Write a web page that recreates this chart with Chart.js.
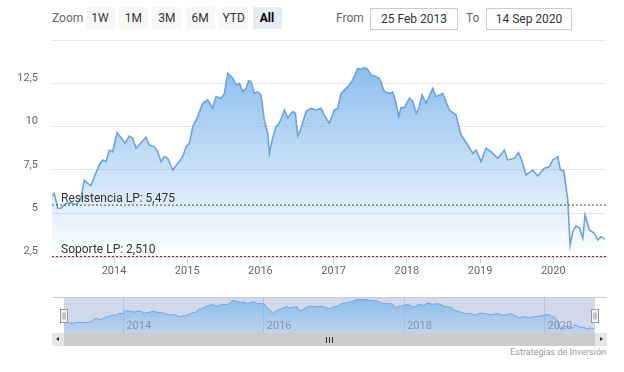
<!DOCTYPE html>
<html>
<head>
<meta charset="utf-8">
<script src="https://cdn.jsdelivr.net/npm/chart.js@4.4.1/dist/chart.umd.min.js"></script>
<style>
  body { margin: 0; width: 624px; height: 372px; overflow: hidden; background: #fff; position: relative; font-family: Roboto, "Liberation Sans", sans-serif; }
  .abs { position: absolute; }
  #zoomLabel { left: 52px; top: 11px; font-size: 12px; color: #666; }
  .btn { top: 7px; width: 29px; height: 22px; line-height: 22px; text-align: center; font-size: 12px; color: #333; background: #f7f7f7; }
  .btn.sel { background: #e6ebf5; font-weight: bold; color: #000; }
  .lbl { top: 11px; font-size: 12px; color: #666; }
  .box { top: 8px; height: 20px; line-height: 20px; border: 1px solid #ccc; text-align: center; font-size: 12px; color: #333; }
  #main { left: 0; top: 0; }
  #navWrap { left: 52px; top: 297px; width: 555px; height: 36px; border-top: 1px solid #ccc; box-sizing: border-box; }
  #nav { left: 0; top: 297px; }
  #scroll { left: 52px; top: 333px; width: 555px; height: 13px; background: #f2f2f2; }
  .sbtn { top: 0; width: 12px; height: 13px; background: #e6e6e6; }
  #thumb { left: 12px; top: 0; width: 531px; height: 13px; background: #cccccc; }
  .rifle { position: absolute; top: 4px; width: 1px; height: 6px; background: #333; }
  .arrL { position: absolute; left: 4px; top: 4px; width: 0; height: 0; border-top: 2.5px solid transparent; border-bottom: 2.5px solid transparent; border-right: 3px solid #333; }
  .arrR { position: absolute; left: 5px; top: 4px; width: 0; height: 0; border-top: 2.5px solid transparent; border-bottom: 2.5px solid transparent; border-left: 3px solid #333; }
  #credits { right: 18px; top: 347px; font-size: 9px; color: #999; }
</style>
</head>
<body>
<div class="abs" id="zoomLabel">Zoom</div>
<div id="buttons"></div>
<div class="abs lbl" style="left:336px">From</div>
<div class="abs box" style="left:370px;width:86px">25 Feb 2013</div>
<div class="abs lbl" style="left:466px">To</div>
<div class="abs box" style="left:486px;width:84px">14 Sep 2020</div>
<canvas id="main" class="abs" width="624" height="290"></canvas>
<div class="abs" id="navWrap"></div>
<canvas id="nav" class="abs" width="624" height="36"></canvas>
<div class="abs" id="scroll">
  <div class="abs sbtn" style="left:0"><div class="arrL"></div></div>
  <div class="abs" id="thumb">
    <div class="rifle" style="left:262px"></div>
    <div class="rifle" style="left:265px"></div>
    <div class="rifle" style="left:268px"></div>
  </div>
  <div class="abs sbtn" style="left:543px"><div class="arrR"></div></div>
</div>
<div class="abs" id="credits">Estrategias de Inversión</div>
<script>
const years = [
    2013.153, 2013.185, 2013.231, 2013.276, 2013.344, 2013.413, 2013.481, 2013.549, 2013.594, 2013.641,
    2013.686, 2013.731, 2013.799, 2013.846, 2013.891, 2013.936, 2013.982,
    2014.041, 2014.096, 2014.150, 2014.209, 2014.255, 2014.301, 2014.369, 2014.437, 2014.482, 2014.551,
    2014.597, 2014.642, 2014.687, 2014.734, 2014.802, 2014.870, 2014.939, 2014.984,
    2015.029, 2015.075, 2015.143, 2015.212, 2015.280, 2015.348, 2015.393, 2015.462, 2015.507, 2015.553,
    2015.622, 2015.667, 2015.712, 2015.758, 2015.803, 2015.840, 2015.872, 2015.917, 2015.963,
    2016.008, 2016.053, 2016.100, 2016.122, 2016.158, 2016.213, 2016.258, 2016.327, 2016.373, 2016.441,
    2016.477, 2016.510, 2016.555, 2016.623, 2016.691, 2016.760, 2016.828, 2016.873, 2016.941,
    2017.010, 2017.056, 2017.101, 2017.193, 2017.261, 2017.329, 2017.374, 2017.419, 2017.466, 2017.511,
    2017.579, 2017.624, 2017.693, 2017.761, 2017.807, 2017.852, 2017.889, 2017.921, 2017.966,
    2018.034, 2018.081, 2018.126, 2018.163, 2018.208, 2018.262, 2018.354, 2018.399, 2018.490, 2018.581,
    2018.672, 2018.740, 2018.832, 2018.900, 2018.945,
    2019.014, 2019.082, 2019.150, 2019.242, 2019.332, 2019.378, 2019.469, 2019.523, 2019.560, 2019.628,
    2019.720, 2019.788, 2019.878, 2019.947, 2019.993,
    2020.061, 2020.097, 2020.143, 2020.198, 2020.230, 2020.266, 2020.311, 2020.357, 2020.403, 2020.434,
    2020.493, 2020.561, 2020.608, 2020.653, 2020.704
];
const prices = [
    6.0, 6.15, 5.29, 5.3, 5.58, 5.6, 5.5, 5.87, 6.92, 6.73, 6.6, 7.11, 7.79, 8.08, 7.98, 8.65, 8.55,
    9.65, 9.38, 9.04, 9.46, 9.33, 8.75, 9.07, 9.38, 8.94, 8.85, 8.56, 7.98, 8.27, 8.17, 7.50, 7.88, 8.27, 8.85,
    9.04, 10.0, 10.58, 11.35, 11.54, 11.06, 11.73, 11.64, 11.92, 13.08, 12.79, 12.4, 12.5, 12.02, 12.2, 12.65, 12.6, 11.92, 12.0,
    11.83, 10.38, 9.62, 8.46, 9.2, 10.0, 10.2, 10.96, 10.5, 10.87, 10.77, 9.46, 9.9, 10.87, 11.06, 10.96, 11.06, 10.67, 10.19,
    10.96, 11.06, 11.92, 12.31, 12.69, 13.37, 13.3, 13.42, 13.3, 12.98, 12.9, 12.79, 12.02, 11.92, 12.0, 11.35, 10.58, 11.1, 11.1,
    11.64, 11.45, 10.77, 11.06, 11.83, 11.35, 12.21, 11.73, 11.92, 10.96, 10.67, 9.52, 8.94, 8.46, 8.65,
    7.98, 8.75, 8.56, 8.17, 8.65, 8.08, 8.17, 8.5, 8.17, 7.21, 7.5, 7.15, 7.6, 7.7, 8.08,
    8.27, 7.5, 7.46, 5.77, 3.17, 3.94, 4.27, 4.15, 3.56, 4.9, 4.04, 3.85, 3.46, 3.65, 3.5
];
const levelNames = ['Resistencia LP', 'Soporte LP'];
const levelValues = [5.475, 2.510];
const levelColors = ['#1f6b2a', '#8e2430'];
const navYears = [2014, 2016, 2018, 2020];
const rangeButtons = ['1W', '1M', '3M', '6M', 'YTD', 'All'];

const xMin = 2013.153;
const xMax = 2020.72;
const blue = '124,181,236';

// range selector buttons
const btnBox = document.getElementById('buttons');
rangeButtons.forEach((b, i) => {
    const el = document.createElement('div');
    el.className = 'abs btn' + (b === 'All' ? ' sel' : '');
    el.style.left = (85.5 + i * 33.4) + 'px';
    el.textContent = b;
    btnBox.appendChild(el);
});

const points = years.map((x, i) => ({ x, y: prices[i] }));

function areaFill(top, bottom) {
    return function(context) {
        const { ctx, chartArea } = context.chart;
        if (!chartArea) return 'rgba(' + blue + ',0.5)';
        const g = ctx.createLinearGradient(0, chartArea.top, 0, chartArea.bottom);
        g.addColorStop(0, 'rgba(' + blue + ',' + top + ')');
        g.addColorStop(1, 'rgba(' + blue + ',' + bottom + ')');
        return g;
    };
}

const levelLabels = {
    id: 'levelLabels',
    afterDatasetsDraw(chart) {
        const { ctx, chartArea, scales } = chart;
        ctx.save();
        ctx.font = '12px Roboto, "Liberation Sans", sans-serif';
        ctx.fillStyle = '#333';
        ctx.textBaseline = 'alphabetic';
        levelNames.forEach((name, i) => {
            const y = scales.y.getPixelForValue(levelValues[i]);
            ctx.fillText(name + ': ' + levelValues[i].toFixed(3).replace('.', ','), chartArea.left + 9, y - 3);
        });
        ctx.restore();
    }
};

const levelSets = levelValues.map((v, i) => ({
    data: [{ x: xMin, y: v }, { x: xMax, y: v }],
    borderColor: levelColors[i],
    borderWidth: 1,
    borderDash: [2, 2],
    pointRadius: 0,
    fill: false,
    order: 0
}));

const mainChart = new Chart(document.getElementById('main'), {
    type: 'line',
    data: {
        datasets: [{
            data: points,
            borderColor: '#6ba3dd',
            borderWidth: 1.6,
            pointRadius: 0,
            tension: 0,
            fill: 'start',
            backgroundColor: areaFill(1, 0),
            order: 1
        }, ...levelSets]
    },
    options: {
        responsive: false,
        animation: false,
        layout: { padding: { top: 40, right: 18, left: 0, bottom: 0 } },
        plugins: {
            legend: { display: false },
            tooltip: { enabled: false }
        },
        scales: {
            x: {
                type: 'linear',
                min: xMin,
                max: xMax,
                afterFit: function(scale) { scale.height = 32.5; },
                grid: { drawOnChartArea: false, color: '#ccd6eb', tickLength: 6 },
                border: { color: '#ccd6eb' },
                ticks: {
                    stepSize: 1,
                    includeBounds: false,
                    maxRotation: 0,
                    padding: 1,
                    color: '#666',
                    font: { size: 11, family: 'Roboto, "Liberation Sans", sans-serif' },
                    callback: function(value) { return String(value); }
                }
            },
            y: {
                min: 2.45,
                max: 15,
                afterFit: function(scale) { scale.width = 52; },
                grid: { color: '#e6e6e6', drawTicks: false },
                border: { display: false },
                ticks: {
                    stepSize: 2.5,
                    includeBounds: false,
                    labelOffset: -5,
                    padding: 14,
                    color: '#666',
                    font: { size: 11, family: 'Roboto, "Liberation Sans", sans-serif' },
                    callback: function(value) {
                        return value === 15 ? '' : String(value).replace('.', ',');
                    }
                }
            }
        }
    },
    plugins: [levelLabels]
});

const navDecor = {
    id: 'navDecor',
    beforeDatasetsDraw(chart) {
        const { ctx, chartArea } = chart;
        ctx.save();
        ctx.fillStyle = 'rgba(102,133,194,0.3)';
        ctx.fillRect(chartArea.left, chartArea.top + 1, chartArea.right - chartArea.left, chartArea.bottom - chartArea.top - 1);
        ctx.restore();
    },
    afterDatasetsDraw(chart) {
        const { ctx, chartArea, scales } = chart;
        ctx.save();
        ctx.font = '11px Roboto, "Liberation Sans", sans-serif';
        ctx.fillStyle = '#8a93a6';
        ctx.textBaseline = 'middle';
        navYears.forEach(yr => {
            ctx.fillText(String(yr), scales.x.getPixelForValue(yr) + 3, 29);
        });
        [chartArea.left, chartArea.right].forEach(x => {
            const hx = Math.round(x) - 3.5;
            ctx.fillStyle = '#f2f2f2';
            ctx.strokeStyle = '#999';
            ctx.lineWidth = 1;
            ctx.fillRect(hx, 12.5, 7, 13);
            ctx.strokeRect(hx, 12.5, 7, 13);
            ctx.beginPath();
            ctx.moveTo(hx + 2.5, 15.5); ctx.lineTo(hx + 2.5, 22.5);
            ctx.moveTo(hx + 4.5, 15.5); ctx.lineTo(hx + 4.5, 22.5);
            ctx.stroke();
        });
        ctx.restore();
    }
};

const navChart = new Chart(document.getElementById('nav'), {
    type: 'line',
    data: {
        datasets: [{
            data: points,
            borderColor: '#6fa5dd',
            borderWidth: 1,
            pointRadius: 0,
            tension: 0,
            fill: 'start',
            backgroundColor: areaFill(0.85, 0.2)
        }]
    },
    options: {
        responsive: false,
        animation: false,
        layout: { padding: { top: 0, right: 29, left: 64, bottom: 0 } },
        plugins: {
            legend: { display: false },
            tooltip: { enabled: false }
        },
        scales: {
            x: {
                type: 'linear',
                min: xMin,
                max: xMax,
                afterFit: function(scale) { scale.height = 0; },
                grid: { color: 'rgba(150,160,180,0.35)', drawTicks: false },
                border: { display: false },
                ticks: { display: false, stepSize: 2, includeBounds: false }
            },
            y: {
                display: false,
                min: 2.0,
                max: 14.2
            }
        }
    },
    plugins: [navDecor]
});
</script>
</body>
</html>
